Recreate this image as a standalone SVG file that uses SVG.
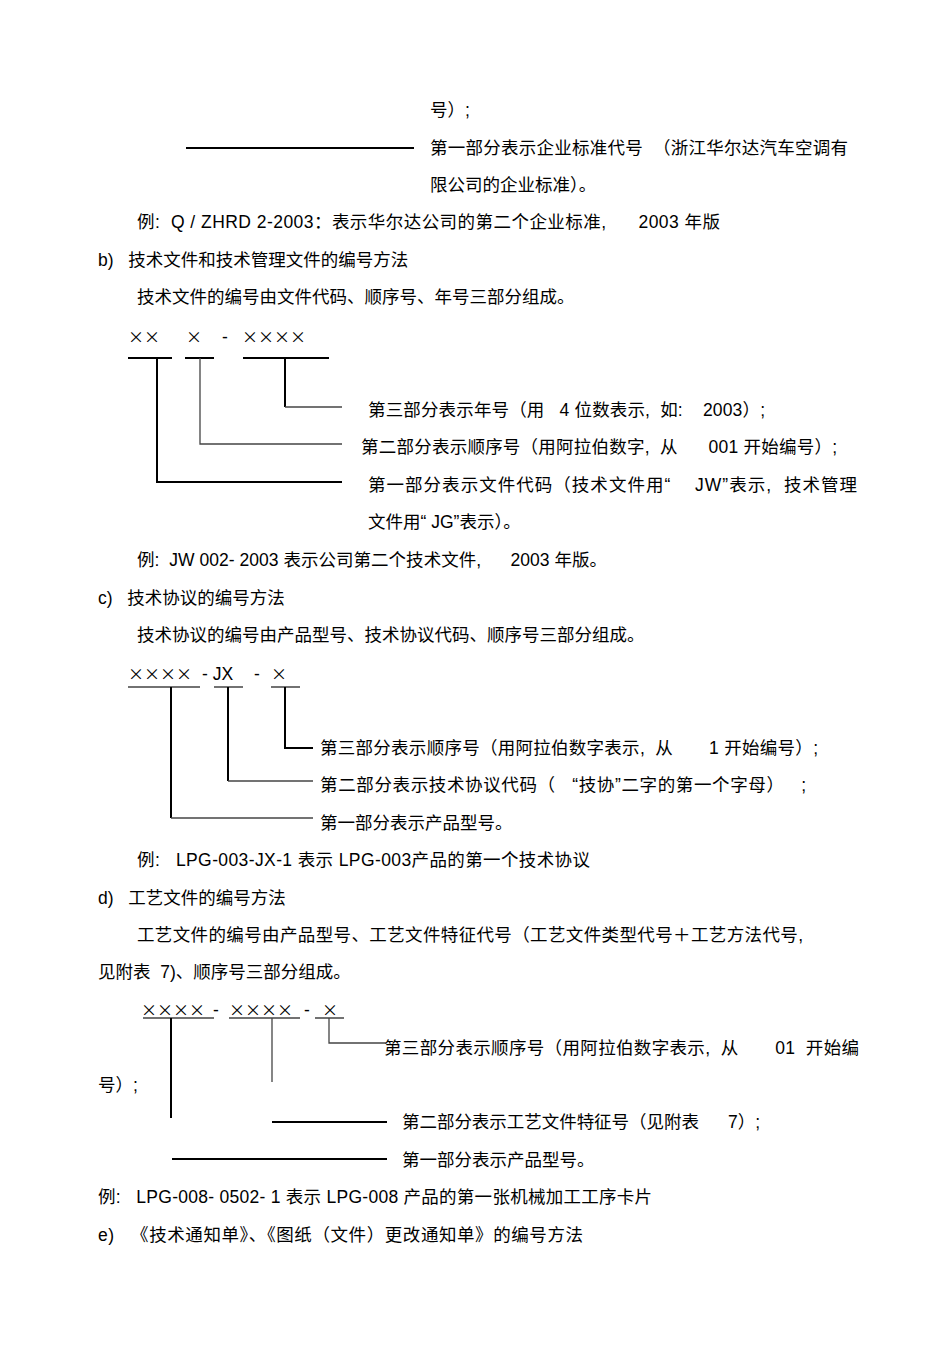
<svg xmlns="http://www.w3.org/2000/svg" width="950" height="1345" viewBox="0 0 950 1345">
<style>
text{font-family:"Liberation Sans","Noto Sans CJK SC",sans-serif;font-size:17.5px;fill:#000;white-space:pre}
.x{font-family:"Noto Sans CJK SC",sans-serif;font-size:16px}
.k{stroke:#000;stroke-width:2;fill:none}
.g{stroke:#444;stroke-width:1.3;fill:none}
</style>
<rect width="950" height="1345" fill="#fff"/>
<g id="text" xml:space="preserve">
<text x="430" y="116">号）;</text>
<text x="430" y="154" textLength="418" lengthAdjust="spacing">第一部分表示企业标准代号  （浙江华尔达汽车空调有</text>
<text x="430" y="191">限公司的企业标准）。</text>
<text x="137" y="228" textLength="583" lengthAdjust="spacing">例:  Q / ZHRD 2-2003：表示华尔达公司的第二个企业标准,      2003 年版</text>
<text x="98" y="266">b)   技术文件和技术管理文件的编号方法</text>
<text x="137" y="303">技术文件的编号由文件代码、顺序号、年号三部分组成。</text>
<text class="x" x="128" y="343">××</text><text class="x" x="186" y="343">×</text><text x="222" y="343">-</text><text class="x" x="242" y="343">××××</text>
<text x="368" y="416" textLength="397" lengthAdjust="spacing">第三部分表示年号（用   4 位数表示,  如:    2003）;</text>
<text x="361" y="453" textLength="476" lengthAdjust="spacing">第二部分表示顺序号（用阿拉伯数字,  从      001 开始编号）;</text>
<text x="368" y="491" textLength="489" lengthAdjust="spacing">第一部分表示文件代码（技术文件用“    JW”表示,  技术管理</text>
<text x="368" y="528">文件用“ JG”表示）。</text>
<text x="137" y="566" textLength="470" lengthAdjust="spacing">例:  JW 002- 2003 表示公司第二个技术文件,      2003 年版。</text>
<text x="98" y="604">c)   技术协议的编号方法</text>
<text x="137" y="641">技术协议的编号由产品型号、技术协议代码、顺序号三部分组成。</text>
<text class="x" x="128" y="680" fill="#555">××××</text><text x="202" y="680">- JX</text><text x="254" y="680">-</text><text class="x" x="271" y="680">×</text>
<text x="320" y="754" textLength="498" lengthAdjust="spacing">第三部分表示顺序号（用阿拉伯数字表示,  从       1 开始编号）;</text>
<text x="320" y="791" textLength="486" lengthAdjust="spacing">第二部分表示技术协议代码（   “技协”二字的第一个字母）   ;</text>
<text x="320" y="829">第一部分表示产品型号。</text>
<text x="137" y="866" textLength="453" lengthAdjust="spacing">例:   LPG-003-JX-1 表示 LPG-003产品的第一个技术协议</text>
<text x="98" y="904">d)   工艺文件的编号方法</text>
<text x="137" y="941" textLength="666" lengthAdjust="spacing">工艺文件的编号由产品型号、工艺文件特征代号（工艺文件类型代号＋工艺方法代号,</text>
<text x="98" y="978">见附表  7)、顺序号三部分组成。</text>
<text class="x" x="141" y="1016">××××</text><text x="213" y="1016">-</text><text class="x" x="229" y="1016">××××</text><text x="304" y="1016">-</text><text class="x" x="322" y="1016">×</text>
<text x="384" y="1054" textLength="475" lengthAdjust="spacing">第三部分表示顺序号（用阿拉伯数字表示,  从       01  开始编</text>
<text x="98" y="1091">号）;</text>
<text x="402" y="1128" textLength="358" lengthAdjust="spacing">第二部分表示工艺文件特征号（见附表      7）;</text>
<text x="402" y="1166">第一部分表示产品型号。</text>
<text x="98" y="1203" textLength="554" lengthAdjust="spacing">例:   LPG-008- 0502- 1 表示 LPG-008 产品的第一张机械加工工序卡片</text>
<text x="98" y="1241" textLength="485" lengthAdjust="spacing">e)   《技术通知单》、《图纸（文件）更改通知单》的编号方法</text>
</g>
<g id="connectors">
<path class="k" d="M186 148H414"/>
<path class="k" d="M128 358H172M185 358H214M243 358H329"/>
<path class="k" d="M157 358V482H342"/>
<path class="g" d="M200 358V444H342"/>
<path class="k" d="M285 358V407"/><path class="g" d="M285 407H342"/>
<path class="g" d="M128 687H200M214 687H243M271 687H300"/>
<path class="k" d="M171 687V818"/><path class="g" d="M171 818H313"/>
<path class="k" d="M228 687V781"/><path class="g" d="M228 781H313"/>
<path class="k" d="M285 687V748H313"/>
<path class="g" d="M143 1018H214M229 1018H300M315 1018H344"/>
<path class="k" d="M171 1018V1118"/>
<path class="g" d="M272 1018V1082"/>
<path class="g" d="M329 1018V1043H386"/>
<path class="k" d="M272 1122H387M172 1159H387"/>
</g>
</svg>
